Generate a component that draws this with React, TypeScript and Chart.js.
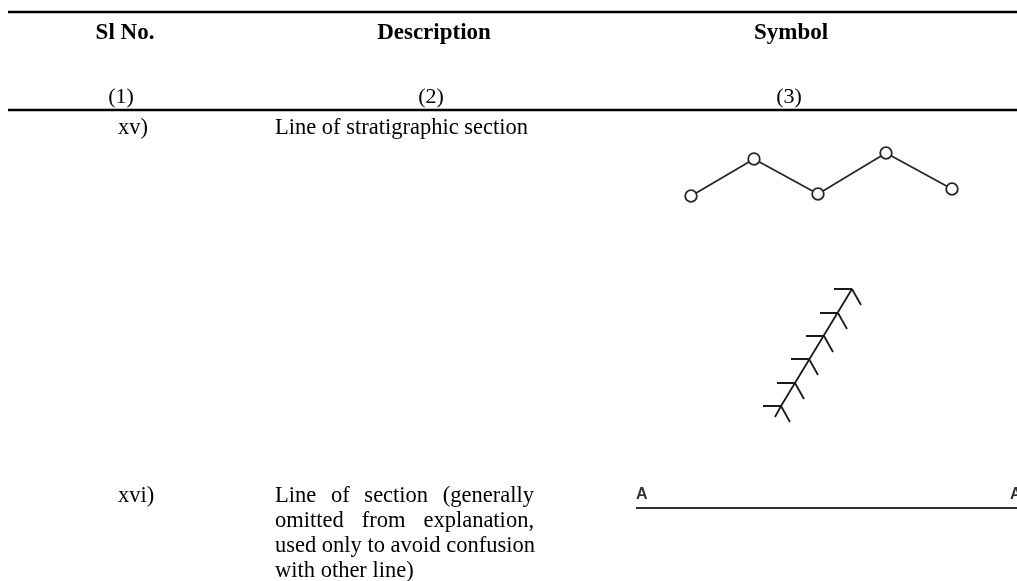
import { useEffect, useRef } from "react";
import { Chart, registerables } from "chart.js";

Chart.register(...registerables);

// ---------- data ----------
const HEADERS = ["Sl No.", "Description", "Symbol"];
const HEADER_NUMS = ["(1)", "(2)", "(3)"];
const ROW_IDS = ["xv)", "xvi)"];
const ROW1_DESC = ["Line of stratigraphic section"];
const ROW2_DESC = [
  "Line of section (generally",
  "omitted from explanation,",
  "used only to avoid confusion",
  "with other line)",
];

// table rules (page coordinates)
const RULE_Y = [12, 110];
const RULE_X = [8, 1017];

// symbol xv (a): line of stratigraphic section (zig-zag with circles)
const ZIGZAG_X = [691, 754, 818, 886, 952];
const ZIGZAG_Y = [196, 159, 194, 153, 189];

// symbol xv (b): barbed line
const FISH_X = [852, 838, 824, 809, 795, 781];
const FISH_Y = [289, 313, 336, 359, 383, 406];

// symbol xvi: line of section A — A
const SECTION_X = [636, 1017];
const SECTION_Y = [508, 508];
const SECTION_LABELS = ["A", "A"];

// ---------- layout ----------
const W = 1017;
const H = 581;
const COL_CENTERS = [125, 434, 791];
const NUM_CENTERS = [121, 431, 789];
const HEADER_Y = 33;
const HEADER_NUM_Y = 97;
const ID_X = 118;
const DESC_LEFT = 275;
const DESC_RIGHT = 534;
const ROW1_Y = 128;
const ROW2_Y = 496;
const LINE_GAP = 25;
const SERIF = '"Liberation Serif", "Times New Roman", serif';

const GAP = { x: NaN, y: NaN };

function buildFishbone() {
  const ticks: any[] = [];
  const barbs: any[] = [];
  FISH_X.forEach((x, i) => {
    const y = FISH_Y[i];
    ticks.push({ x: x - 18, y }, { x, y }, GAP);
    barbs.push({ x, y }, { x: x + 9, y: y + 16 }, GAP);
  });
  const last = FISH_X.length - 1;
  barbs.push({ x: FISH_X[last], y: FISH_Y[last] }, { x: FISH_X[last] - 6, y: FISH_Y[last] + 11 });
  return { ticks, barbs };
}

export default function App() {
  const ref = useRef<HTMLCanvasElement>(null);

  useEffect(() => {
    if (!ref.current) return;
    const fish = buildFishbone();
    const lineDs = (data: any[], color: string, width: number) => ({
      data,
      showLine: true,
      borderColor: color,
      backgroundColor: color,
      borderWidth: width,
      pointRadius: 0,
      pointHoverRadius: 0,
      spanGaps: false,
      clip: false as any,
      tension: 0,
    });

    const rules: any[] = [];
    RULE_Y.forEach((y) => {
      rules.push({ x: RULE_X[0], y }, { x: RULE_X[1], y }, GAP);
    });

    const datasets: any[] = [
      lineDs(rules, "#000000", 2.5),
      {
        ...lineDs(
          ZIGZAG_X.map((x, i) => ({ x, y: ZIGZAG_Y[i] })),
          "#262626",
          1.8
        ),
        pointRadius: 5.8,
        pointStyle: "circle",
        pointBackgroundColor: "#ffffff",
        pointBorderColor: "#262626",
        pointBorderWidth: 1.8,
      },
      lineDs(
        [
          { x: FISH_X[0], y: FISH_Y[0] },
          { x: FISH_X[FISH_X.length - 1], y: FISH_Y[FISH_Y.length - 1] },
        ],
        "#1a1a1a",
        1.8
      ),
      lineDs(fish.ticks, "#1a1a1a", 1.8),
      lineDs(fish.barbs, "#1a1a1a", 1.8),
      lineDs(
        SECTION_X.map((x, i) => ({ x, y: SECTION_Y[i] })),
        "#333333",
        2.2
      ),
    ];

    const textPlugin = {
      id: "tableText",
      afterDatasetsDraw(chart: any) {
        const { ctx } = chart;
        const sx = chart.scales.x;
        const sy = chart.scales.y;
        const px = (v: number) => sx.getPixelForValue(v);
        const py = (v: number) => sy.getPixelForValue(v);
        ctx.save();
        ctx.fillStyle = "#000000";
        ctx.textBaseline = "middle";

        // header
        ctx.font = `bold 23px ${SERIF}`;
        ctx.textAlign = "center";
        HEADERS.forEach((t, i) => ctx.fillText(t, px(COL_CENTERS[i]), py(HEADER_Y)));
        ctx.font = `22px ${SERIF}`;
        HEADER_NUMS.forEach((t, i) => ctx.fillText(t, px(NUM_CENTERS[i]), py(HEADER_NUM_Y)));

        // row ids
        ctx.textAlign = "left";
        ctx.font = `22.5px ${SERIF}`;
        ctx.fillText(ROW_IDS[0], px(ID_X), py(ROW1_Y));
        ctx.fillText(ROW_IDS[1], px(ID_X), py(ROW2_Y));

        // descriptions
        const drawJustified = (lines: string[], y0: number) => {
          lines.forEach((line, li) => {
            const y = py(y0 + li * LINE_GAP);
            const isLast = li === lines.length - 1;
            if (isLast || lines.length === 1) {
              ctx.fillText(line, px(DESC_LEFT), y);
              return;
            }
            const words = line.split(" ");
            const widths = words.map((w) => ctx.measureText(w).width);
            const total = widths.reduce((a, b) => a + b, 0);
            const avail = px(DESC_RIGHT) - px(DESC_LEFT);
            const natural = ctx.measureText(" ").width;
            const space = Math.max(natural, (avail - total) / (words.length - 1));
            let x = px(DESC_LEFT);
            words.forEach((w, wi) => {
              ctx.fillText(w, x, y);
              x += widths[wi] + space;
            });
          });
        };
        drawJustified(ROW1_DESC, ROW1_Y);
        drawJustified(ROW2_DESC, ROW2_Y);

        // section labels
        ctx.font = `bold 16px "Liberation Sans", Arial, sans-serif`;
        ctx.fillStyle = "#333333";
        ctx.textBaseline = "alphabetic";
        ctx.fillText(SECTION_LABELS[0], px(SECTION_X[0]), py(SECTION_Y[0] - 9));
        ctx.fillText(SECTION_LABELS[1], px(SECTION_X[1] - 7), py(SECTION_Y[1] - 9));
        ctx.restore();
      },
    };

    const chart = new Chart(ref.current, {
      type: "scatter",
      data: { datasets },
      options: {
        animation: false,
        responsive: true,
        maintainAspectRatio: false,
        events: [],
        layout: { padding: 0, autoPadding: false },
        plugins: {
          legend: { display: false },
          tooltip: { enabled: false },
          title: { display: false },
        },
        scales: {
          x: { type: "linear", min: 0, max: W, display: false },
          y: { type: "linear", min: 0, max: H, reverse: true, display: false },
        },
      },
      plugins: [textPlugin],
    });
    return () => chart.destroy();
  }, []);

  return (
    <div
      style={{
        position: "fixed",
        left: 0,
        top: 0,
        width: W,
        height: H,
        background: "#ffffff",
      }}
    >
      <canvas ref={ref} />
    </div>
  );
}
